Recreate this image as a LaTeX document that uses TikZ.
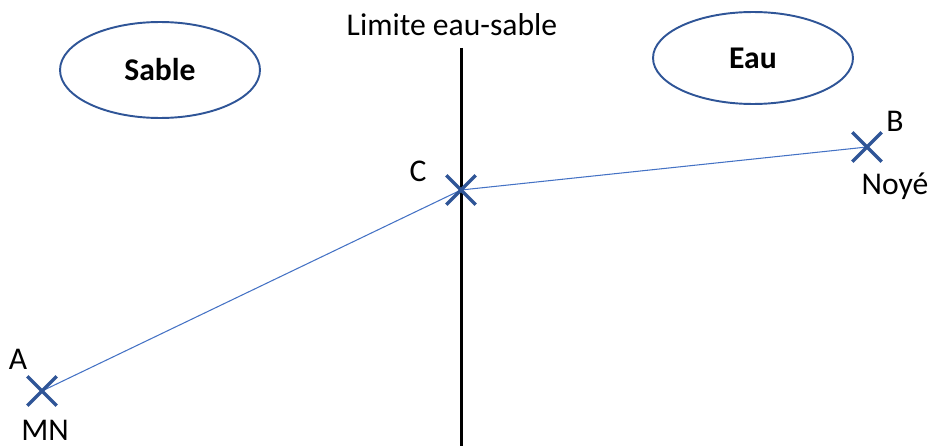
\documentclass[tikz,border=0pt]{standalone}
\usepackage{fontspec}
\setmainfont{Carlito}
\usepackage{tikz}
\usetikzlibrary{positioning,shapes.misc,shapes.geometric}
\definecolor{mydarkblue}{RGB}{47,85,151}
\definecolor{mylineblue}{RGB}{68,114,196}

\tikzset{
  zone/.style={draw=mydarkblue, line width=1.1pt, ellipse, minimum width=4cm, minimum height=1.86cm, font=\fontsize{18}{22}\selectfont\bfseries},
  pointmark/.style={draw=mydarkblue, cross out, line width=1.9pt, minimum size=0.52cm, inner sep=0pt},
  route/.style={mylineblue, line width=0.6pt},
  lbl/.style={inner sep=0pt}
}

\begin{document}
\begin{tikzpicture}[x=0.02cm, y=-0.02cm, font=\fontsize{18}{22}\selectfont]
  \useasboundingbox (0,0) rectangle (932,446);

  % zones
  \node[zone, minimum height=1.92cm] (sable) at (160,70) {Sable};
  \node[zone, minimum height=1.84cm] (eau) at (753,58) {Eau};

  % water/sand boundary
  \coordinate (top) at (461,48);
  \coordinate (bottom) at (461,446);
  \draw[line width=1.7pt] (top) -- (bottom);
  \node[lbl] (limite) at (452,25) {Limite eau-sable};

  % points
  \coordinate (A) at (42,391);
  \coordinate (C) at (461,190);
  \coordinate (B) at (867,147);
  \draw[route] (A) -- (C) -- (B);
  \node[pointmark] (markA) at (A) {};
  \node[pointmark] (markC) at (C) {};
  \node[pointmark] (markB) at (B) {};

  % labels
  \node[lbl] (labA) at (18,359) {A};
  \node[lbl] (labMN) at (45,430) {MN};
  \node[lbl] (labC) at (418,171) {C};
  \node[lbl] (labB) at (895,121) {B};
  \node[lbl] (labNoye) at (895,186) {Noyé};
\end{tikzpicture}
\end{document}
